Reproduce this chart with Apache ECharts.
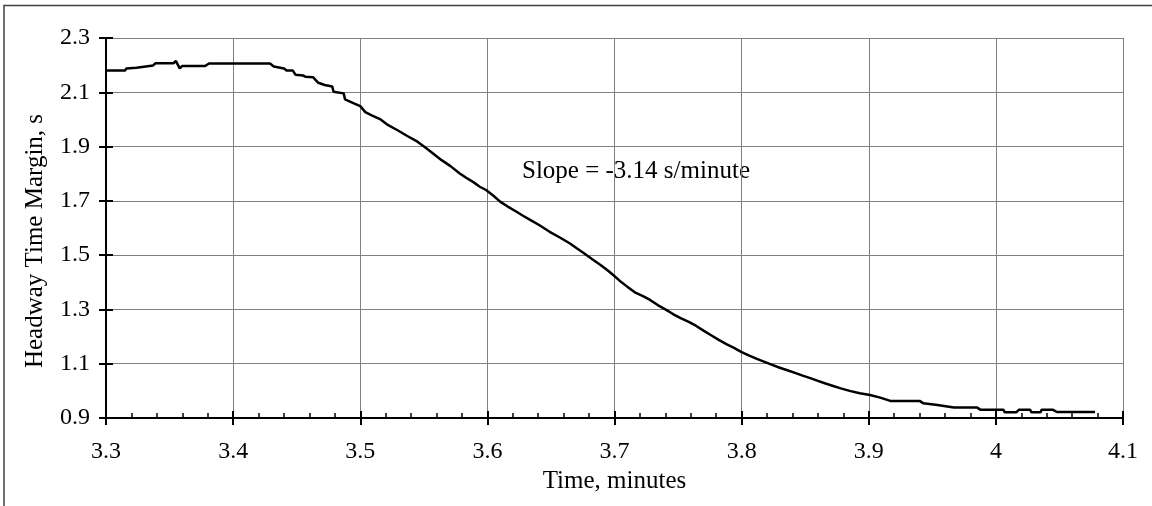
<!DOCTYPE html>
<html>
<head>
<meta charset="utf-8">
<script src="https://cdn.jsdelivr.net/npm/echarts@6/dist/echarts.min.js"></script>
<style>
  html, body { margin: 0; padding: 0; background: #fff; }
  #chart { width: 1152px; height: 506px; }
</style>
</head>
<body>
<div id="chart"></div>
<script>
// time (minutes) and headway time margin (s)
var timeMin = [
  3.300, 3.315, 3.316, 3.324, 3.325, 3.337, 3.339, 3.353, 3.355, 3.356,
  3.358, 3.360, 3.378, 3.381, 3.429, 3.432, 3.440, 3.442, 3.447, 3.449,
  3.455, 3.457, 3.463, 3.467, 3.472, 3.478, 3.479, 3.487, 3.488, 3.495,
  3.500, 3.504, 3.509, 3.516, 3.522, 3.529, 3.537, 3.545, 3.552, 3.558,
  3.564, 3.571, 3.578, 3.583, 3.589, 3.594, 3.599, 3.605, 3.610, 3.616,
  3.623, 3.628, 3.634, 3.641, 3.649, 3.657, 3.665, 3.670, 3.676, 3.682,
  3.689, 3.694, 3.699, 3.704, 3.710, 3.716, 3.722, 3.728, 3.734, 3.740,
  3.746, 3.752, 3.758, 3.764, 3.770, 3.776, 3.782, 3.788, 3.794, 3.800,
  3.806, 3.812, 3.818, 3.824, 3.830, 3.836, 3.842, 3.848, 3.854, 3.860,
  3.866, 3.872, 3.878, 3.885, 3.893, 3.901, 3.909, 3.917, 3.940, 3.943,
  3.954, 3.967, 3.985, 3.988, 4.006, 4.007, 4.016, 4.018, 4.027, 4.028,
  4.035, 4.036, 4.045, 4.048, 4.078
];
var headway = [
  2.180, 2.180, 2.188, 2.190, 2.197, 2.199, 2.207, 2.207, 2.215, 2.210,
  2.188, 2.197, 2.197, 2.206, 2.206, 2.195, 2.188, 2.180, 2.180, 2.165,
  2.162, 2.157, 2.155, 2.135, 2.127, 2.121, 2.102, 2.096, 2.074, 2.059,
  2.049, 2.027, 2.015, 2.000, 1.979, 1.961, 1.939, 1.918, 1.894, 1.872,
  1.850, 1.828, 1.802, 1.786, 1.769, 1.752, 1.740, 1.718, 1.697, 1.679,
  1.660, 1.645, 1.629, 1.610, 1.586, 1.565, 1.543, 1.526, 1.507, 1.487,
  1.464, 1.446, 1.427, 1.406, 1.384, 1.363, 1.350, 1.335, 1.316, 1.300,
  1.283, 1.268, 1.255, 1.240, 1.222, 1.205, 1.188, 1.172, 1.158, 1.143,
  1.130, 1.118, 1.107, 1.096, 1.085, 1.076, 1.066, 1.056, 1.047, 1.037,
  1.027, 1.018, 1.009, 1.000, 0.991, 0.985, 0.975, 0.963, 0.963, 0.954,
  0.948, 0.939, 0.939, 0.930, 0.930, 0.921, 0.921, 0.930, 0.930, 0.921,
  0.921, 0.930, 0.930, 0.922, 0.922
];
var yTicks = [0.9, 1.1, 1.3, 1.5, 1.7, 1.9, 2.1, 2.3];
var xMin = 3.3, xMax = 4.1, xStep = 0.1;
var slopeText = 'Slope = -3.14 s/minute';

var font = 'Liberation Serif';
var points = timeMin.map(function (t, i) { return [t, headway[i]]; });

var chart = echarts.init(document.getElementById('chart'), null, { renderer: 'canvas' });

var option = {
  backgroundColor: '#fff',
  animation: false,
  grid: { left: 106, right: 29, top: 38, bottom: 88, outerBoundsMode: 'none' },
  xAxis: [{
    type: 'value', position: 'bottom',
    min: xMin, max: xMax, interval: xStep,
    name: 'Time, minutes', nameLocation: 'middle', nameGap: 44,
    nameTextStyle: { fontFamily: font, fontSize: 25, color: '#000' },
    axisLine: { show: true, onZero: false, lineStyle: { color: '#000', width: 2 } },
    axisTick: { show: true, inside: true, length: 7, lineStyle: { color: '#000', width: 2 } },
    minorTick: { show: true, splitNumber: 5, length: 5, lineStyle: { color: '#000', width: 1.5 } },
    splitLine: { show: true, lineStyle: { color: '#808080', width: 1 } },
    axisLabel: { fontFamily: font, fontSize: 24, color: '#000', margin: 22 }
  }, {
    type: 'value', position: 'bottom',
    min: xMin, max: xMax, interval: xStep,
    axisLine: { show: false },
    axisTick: { show: true, inside: false, length: 7, lineStyle: { color: '#000', width: 2 } },
    splitLine: { show: false },
    axisLabel: { show: false }
  }],
  yAxis: [{
    type: 'value', position: 'left',
    min: 0.9, max: 2.3,
    name: 'Headway Time Margin, s', nameLocation: 'middle', nameGap: 58, nameRotate: 90,
    nameTextStyle: { fontFamily: font, fontSize: 25, color: '#000', padding: [0, 26, 0, 0] },
    axisLine: { show: true, onZero: false, lineStyle: { color: '#000', width: 2 } },
    axisTick: { show: true, inside: true, length: 7, customValues: yTicks, lineStyle: { color: '#000', width: 2 } },
    splitLine: { show: true, lineStyle: { color: '#808080', width: 1 } },
    axisLabel: { customValues: yTicks, fontFamily: font, fontSize: 24, color: '#000', margin: 16,
      formatter: function (v) { return v.toFixed(1); } }
  }, {
    type: 'value', position: 'left',
    min: 0.9, max: 2.3,
    axisLine: { show: false },
    axisTick: { show: true, inside: false, length: 7, customValues: yTicks, lineStyle: { color: '#000', width: 2 } },
    splitLine: { show: false },
    axisLabel: { show: false }
  }],
  series: [{
    type: 'line',
    data: points,
    showSymbol: false,
    symbol: 'none',
    lineStyle: { color: '#000', width: 2.5 },
    z: 5
  }],
  graphic: [{
    type: 'polyline',
    shape: { points: [[4, 506], [4, 5.5], [1152, 5.5]] },
    style: { stroke: '#404040', lineWidth: 1.5, fill: null },
    silent: true
  }, {
    type: 'text',
    left: 522, top: 159,
    style: { text: slopeText, font: '25px "Liberation Serif"', fill: '#000' },
    silent: true
  }]
};

chart.setOption(option);
</script>
</body>
</html>
